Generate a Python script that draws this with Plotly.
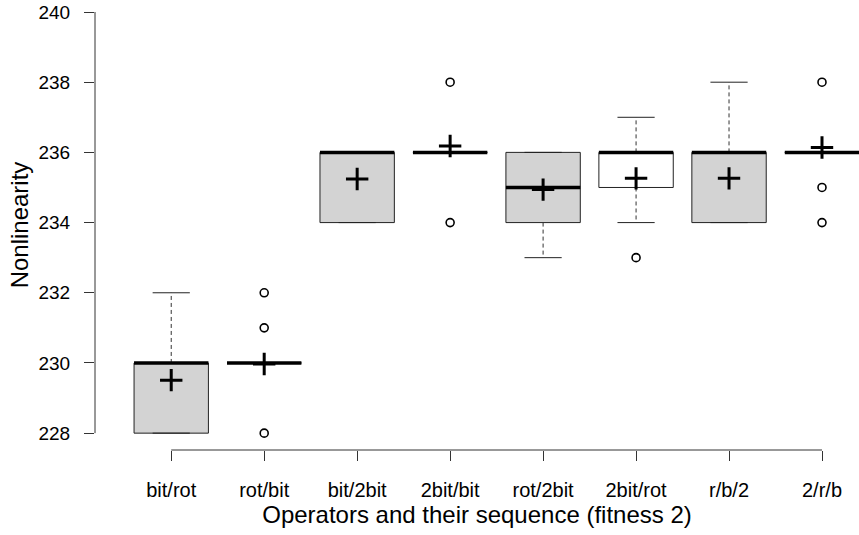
import plotly.graph_objects as go

categories = ["bit/rot", "rot/bit", "bit/2bit", "2bit/bit", "rot/2bit", "2bit/rot", "r/b/2", "2/r/b"]
q1 = [228, 230, 234, 236, 234, 235, 234, 236]
median = [230, 230, 236, 236, 235, 236, 236, 236]
q3 = [230, 230, 236, 236, 236, 236, 236, 236]
whisker_low = [228, 230, 234, 236, 233, 234, 234, 236]
whisker_high = [232, 230, 236, 236, 236, 237, 238, 236]
outliers = [[], [228, 231, 232], [], [234, 238], [], [233], [], [234, 235, 238]]
means = [229.51, 229.97, 235.24, 236.18, 234.94, 235.26, 235.26, 236.14]
box_fill = ["#d3d3d3", "white", "#d3d3d3", "white", "#d3d3d3", "white", "#d3d3d3", "white"]
y_ticks = [228, 230, 232, 234, 236, 238, 240]

BW = 0.4    # half box width
CW = 0.2    # half staple width

fig = go.Figure()
pos = list(range(1, len(categories) + 1))

# boxes
for i, p in enumerate(pos):
    fig.add_trace(go.Scatter(
        x=[p - BW, p + BW, p + BW, p - BW, p - BW],
        y=[q1[i], q1[i], q3[i], q3[i], q1[i]],
        mode="lines", fill="toself", fillcolor=box_fill[i],
        line=dict(color="#222", width=1), hoverinfo="skip", showlegend=False))

# whiskers (dashed)
wx, wy = [], []
for i, p in enumerate(pos):
    if whisker_high[i] > q3[i]:
        wx += [p, p, None]; wy += [q3[i], whisker_high[i], None]
    if whisker_low[i] < q1[i]:
        wx += [p, p, None]; wy += [q1[i], whisker_low[i], None]
fig.add_trace(go.Scatter(x=wx, y=wy, mode="lines",
                         line=dict(color="#333", width=1, dash="4px,3px"),
                         hoverinfo="skip", showlegend=False))

# staples
sx, sy = [], []
for i, p in enumerate(pos):
    for v in (whisker_low[i], whisker_high[i]):
        sx += [p - CW, p + CW, None]; sy += [v, v, None]
fig.add_trace(go.Scatter(x=sx, y=sy, mode="lines",
                         line=dict(color="#222", width=1),
                         hoverinfo="skip", showlegend=False))

# medians
mx, my = [], []
for i, p in enumerate(pos):
    mx += [p - BW, p + BW, None]; my += [median[i], median[i], None]
fig.add_trace(go.Scatter(x=mx, y=my, mode="lines",
                         line=dict(color="black", width=3.5),
                         hoverinfo="skip", showlegend=False))

# outliers
ox, oy = [], []
for i, p in enumerate(pos):
    for v in outliers[i]:
        ox.append(p); oy.append(v)
fig.add_trace(go.Scatter(x=ox, y=oy, mode="markers",
                         marker=dict(symbol="circle-open", size=8, color="black",
                                     line=dict(width=1.6)),
                         hoverinfo="skip", showlegend=False))

# means
fig.add_trace(go.Scatter(x=pos, y=means, mode="markers",
                         marker=dict(symbol="cross-thin", size=16, color="black",
                                     line=dict(width=3, color="black")),
                         hoverinfo="skip", showlegend=False))

# R-style axis lines (from first to last tick)
fig.add_shape(type="line", xref="paper", yref="y", x0=0, x1=0,
              y0=y_ticks[0], y1=y_ticks[-1], line=dict(color="#333", width=1))
fig.add_shape(type="line", xref="x", yref="paper", x0=pos[0], x1=pos[-1],
              y0=0, y1=0, line=dict(color="#333", width=1))

font = "Liberation Sans, Arial, sans-serif"
fig.update_layout(
    width=859, height=535,
    margin=dict(l=95, r=0, t=0, b=85),
    paper_bgcolor="white", plot_bgcolor="white",
    font=dict(family=font, color="black"),
    xaxis=dict(range=[0.18, 8.398], tickmode="array", tickvals=pos, ticktext=categories,
               ticks="outside", ticklen=10, tickwidth=1, tickcolor="#333",
               showline=False, showgrid=False, zeroline=False,
               tickfont=dict(size=20, family=font, color="black"),
               ticklabelstandoff=12,
               title=dict(text="Operators and their sequence (fitness 2)",
                          font=dict(size=24, family=font, color="black"), standoff=6)),
    yaxis=dict(range=[227.52, 240.342], tickmode="array", tickvals=y_ticks,
               ticks="outside", ticklen=10, tickwidth=1, tickcolor="#333",
               showline=False, showgrid=False, zeroline=False,
               tickfont=dict(size=19, family=font, color="black"),
               ticklabelstandoff=10,
               title=dict(text="Nonlinearity",
                          font=dict(size=24, family=font, color="black"), standoff=3)),
)

fig.write_html("out.html", config={"displayModeBar": False},
               post_script="document.body.style.margin='0';")
